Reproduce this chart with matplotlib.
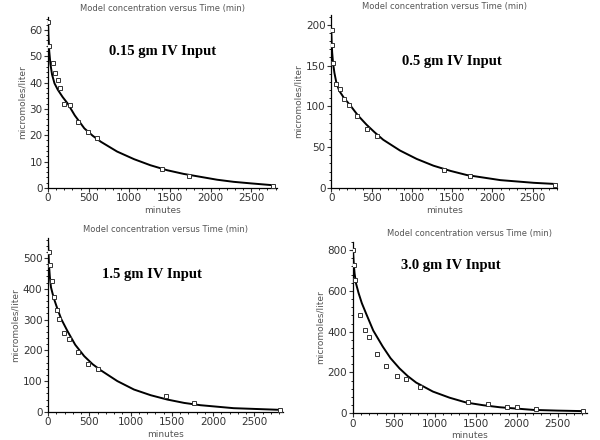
import numpy as np
import matplotlib
matplotlib.use("Agg")
import matplotlib.pyplot as plt
from matplotlib.ticker import MultipleLocator

t1 = [5, 15, 60, 90, 120, 150, 195, 265, 375, 495, 600, 1400, 1740, 2770]
c1 = [63, 54, 47.5, 43.5, 41, 38, 32, 31.5, 25, 21.3, 18.8, 7.2, 4.5, 0.8]
t2 = [5, 12, 23, 64, 106, 160, 218, 326, 450, 571, 1393, 1725, 2770]
c2 = [193, 175, 153, 127, 121, 109, 101, 88.7, 72, 63, 21.9, 14.4, 4.1]
t3 = [10, 25, 44, 76, 109, 137, 189, 258, 366, 487, 600, 1425, 1767, 2813]
c3 = [518, 478, 426, 373, 332, 302, 256, 237, 194, 157, 140, 50, 30, 7.6]
t4 = [8, 18, 31, 88, 153, 202, 296, 406, 537, 651, 822, 1406, 1651, 1876, 2006, 2234, 2814]
c4 = [803, 726, 653, 482, 408, 372, 291, 233, 183, 167, 126, 57, 44, 29, 29, 20, 13]

# model curves
mt1 = [0, 5, 15, 30, 50, 80, 120, 180, 243, 330, 447, 550, 651, 850, 1059, 1260, 1467, 1670, 1875, 2080, 2283, 2500, 2772]
mc1 = [64, 58, 52, 47, 43, 39.7, 37.3, 34.5, 32, 27.5, 22.6, 19.8, 17.5, 13.8, 10.9, 8.6, 6.7, 5.3, 4.2, 3.1, 2.3, 1.7, 1.0]
mt2 = [0, 5, 12, 23, 40, 64, 100, 160, 230, 330, 438, 540, 645, 853, 1060, 1268, 1480, 1683, 2098, 2513, 2760]
mc2 = [195, 180, 166, 153, 141, 129, 119, 110, 102, 89, 77.5, 68, 59, 45.8, 35.5, 27.2, 20.8, 15.7, 9.5, 6.2, 4.9]
mt3 = [0, 5, 12, 22, 36, 55, 76, 110, 160, 237, 330, 439, 540, 640, 840, 1042, 1245, 1445, 1650, 1847, 2249, 2813]
mc3 = [560, 520, 478, 440, 405, 385, 365, 338, 302, 262, 218, 181, 155, 135, 100, 72.5, 54, 40, 29, 21.6, 11.9, 6.5]
mt4 = [0, 5, 12, 22, 39, 70, 110, 161, 250, 365, 460, 569, 670, 773, 977, 1180, 1385, 1590, 1793, 2202, 2500, 2814]
mc4 = [830, 780, 730, 685, 637, 590, 540, 490, 405, 327, 270, 220, 182, 150, 106, 76, 52, 39, 29, 16, 12.5, 10]

panels = [
    (t1, c1, mt1, mc1, "0.15 gm IV Input", 65, 2820, 10, 2, [0.080, 0.573, 0.382, 0.389], (0.50, 0.795)),
    (t2, c2, mt2, mc2, "0.5 gm IV Input", 212, 2805, 50, 10, [0.552, 0.573, 0.377, 0.393], (0.535, 0.73)),
    (t3, c3, mt3, mc3, "1.5 gm IV Input", 565, 2850, 100, 20, [0.080, 0.064, 0.392, 0.395], (0.44, 0.79)),
    (t4, c4, mt4, mc4, "3.0 gm IV Input", 840, 2855, 200, 40, [0.588, 0.061, 0.390, 0.389], (0.42, 0.865)),
]

fig = plt.figure(figsize=(6, 4.4), dpi=100)
gray = "#555555"

for t, c, mt, mc, label, ytop, xend, ymaj, ymin, rect, lpos in panels:
    ax = fig.add_axes(rect)
    ax.plot(mt, mc, color="black", lw=1.4, zorder=2)
    ax.plot(t, c, ls="none", marker="s", ms=3.4, mfc="white", mec="#333333", mew=0.7, zorder=3)
    ax.set_xlim(0, xend)
    ax.set_ylim(0, ytop)
    ax.xaxis.set_major_locator(MultipleLocator(500))
    ax.xaxis.set_minor_locator(MultipleLocator(100))
    ax.yaxis.set_major_locator(MultipleLocator(ymaj))
    ax.yaxis.set_minor_locator(MultipleLocator(ymin))
    for s in ["top", "right"]:
        ax.spines[s].set_visible(False)
    for s in ["left", "bottom"]:
        ax.spines[s].set_linewidth(0.9)
    ax.tick_params(which="major", length=3, width=0.8, labelsize=7.5, colors="#333333", pad=1)
    ax.tick_params(which="minor", length=1.5, width=0.6)
    ax.set_title("Model concentration versus Time (min)", fontsize=6, color=gray, pad=4)
    ax.set_xlabel("minutes", fontsize=6.5, color=gray, labelpad=2)
    ax.set_ylabel("micromoles/liter", fontsize=6.5, color=gray, labelpad=2)
    ax.text(lpos[0], lpos[1], label, transform=ax.transAxes, ha="center", va="center",
            fontsize=10.5, fontweight="bold", family="Liberation Serif")

fig.savefig("out.png", dpi=100)
